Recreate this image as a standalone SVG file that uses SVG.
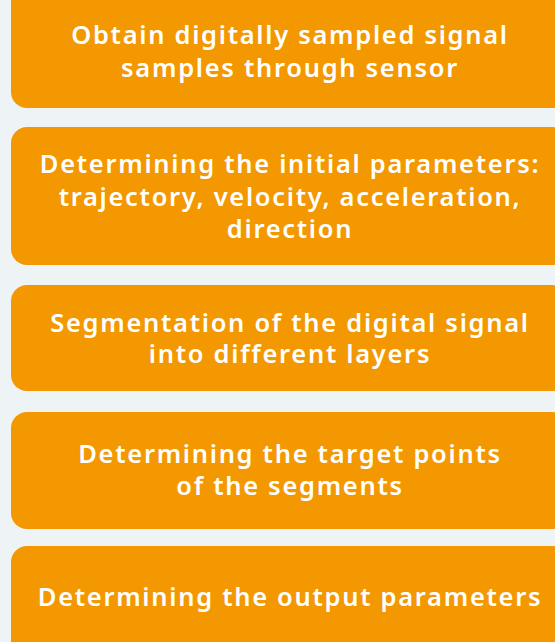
<svg xmlns="http://www.w3.org/2000/svg" width="555" height="642" viewBox="0 0 555 642">
<style>
.box{fill:#f39800}
.t{fill:#ffffff;font-family:"Noto Sans","Open Sans","DejaVu Sans",sans-serif;font-weight:600;font-size:25.5px;letter-spacing:1.7px;text-anchor:middle}
</style>
<rect x="0" y="0" width="555" height="642" fill="#eef3f6"/>
<g id="node1">
<rect class="box" x="11" y="-20" width="557" height="128" rx="16"/>
<text class="t" x="290" y="44">Obtain digitally sampled signal</text>
<text class="t" x="290" y="76.5">samples through sensor</text>
</g>
<g id="node2">
<rect class="box" x="11" y="127" width="557" height="138" rx="16"/>
<text class="t" x="290" y="173">Determining the initial parameters:</text>
<text class="t" x="290" y="205.5">trajectory, velocity, acceleration,</text>
<text class="t" x="290" y="238">direction</text>
</g>
<g id="node3">
<rect class="box" x="11" y="285" width="557" height="106" rx="16"/>
<text class="t" x="290" y="331.5">Segmentation of the digital signal</text>
<text class="t" x="290" y="363">into different layers</text>
</g>
<g id="node4">
<rect class="box" x="11" y="412" width="557" height="117" rx="16"/>
<text class="t" x="290" y="463">Determining the target points</text>
<text class="t" x="290" y="494.5">of the segments</text>
</g>
<g id="node5">
<rect class="box" x="11" y="546" width="557" height="120" rx="16"/>
<text class="t" x="290" y="606">Determining the output parameters</text>
</g>
<g id="connectors"></g>
</svg>
